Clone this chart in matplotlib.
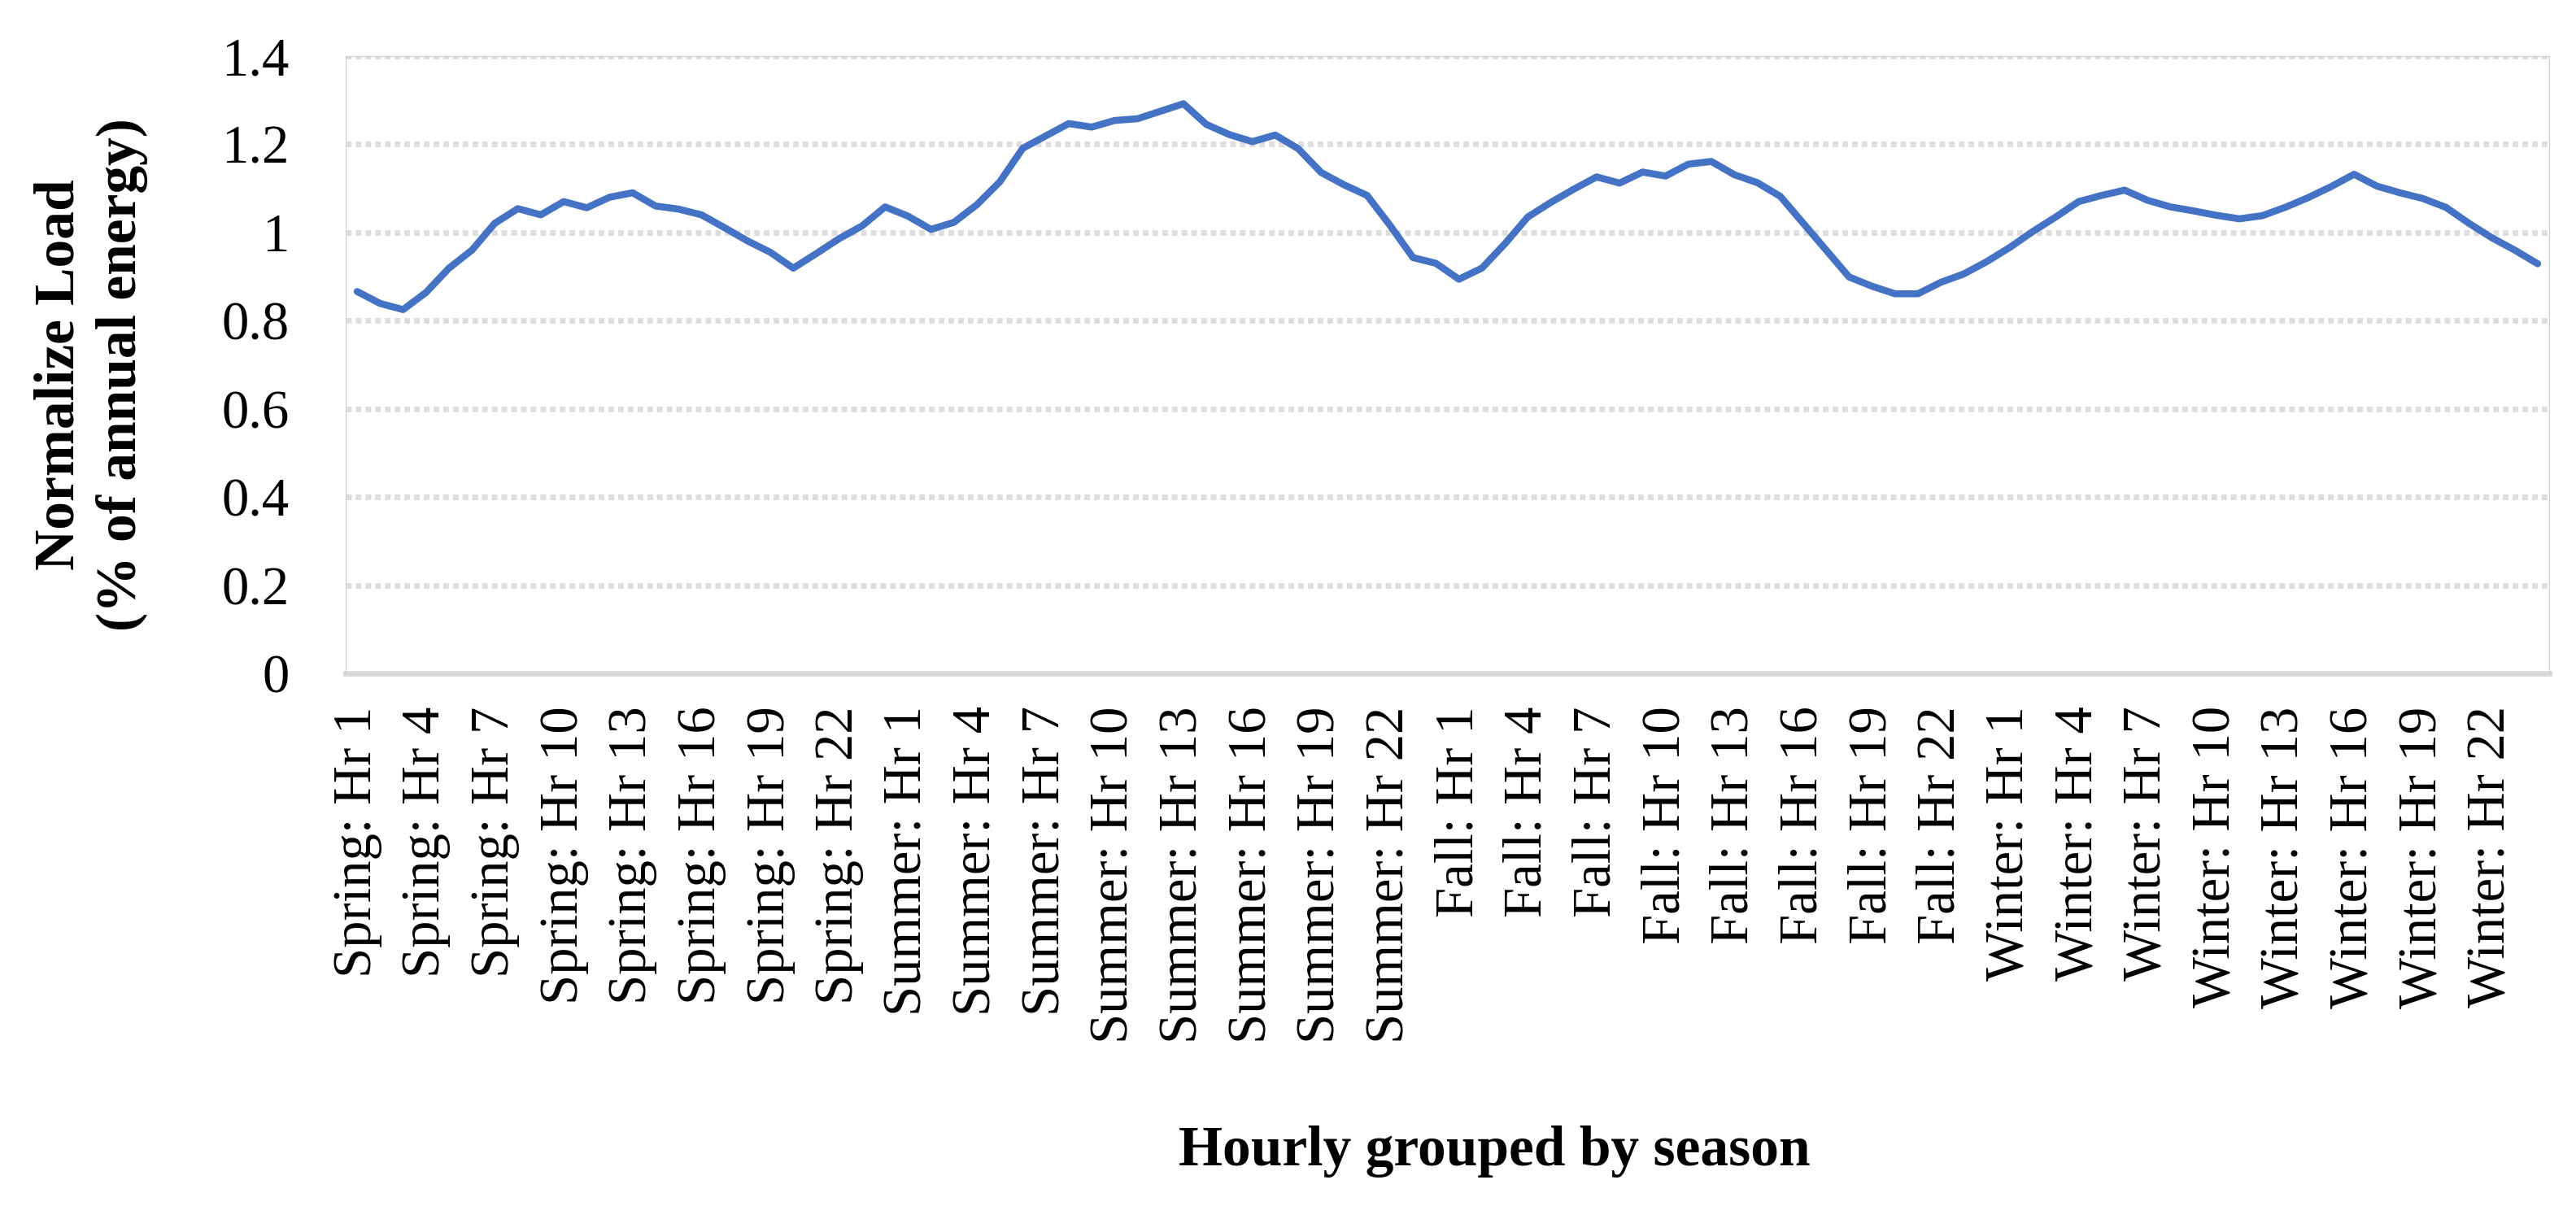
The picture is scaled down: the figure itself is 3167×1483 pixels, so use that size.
import matplotlib
matplotlib.use("Agg")
import matplotlib.pyplot as plt
import numpy as np

# ---------------- data ----------------
seasons = ["Spring", "Summer", "Fall", "Winter"]
hours = list(range(1, 25))

spring = [0.866, 0.839, 0.825, 0.864, 0.919, 0.960, 1.021, 1.054, 1.040, 1.070, 1.056, 1.080,
          1.090, 1.060, 1.053, 1.040, 1.011, 0.981, 0.955, 0.919, 0.952, 0.986, 1.015, 1.058]
summer = [1.037, 1.007, 1.023, 1.063, 1.115, 1.191, 1.219, 1.247, 1.239, 1.254, 1.258, 1.275,
          1.292, 1.245, 1.222, 1.206, 1.221, 1.190, 1.136, 1.108, 1.084, 1.016, 0.943, 0.930]
fall = [0.894, 0.919, 0.974, 1.035, 1.068, 1.098, 1.126, 1.112, 1.137, 1.128, 1.155, 1.161,
        1.131, 1.113, 1.082, 1.021, 0.960, 0.899, 0.878, 0.861, 0.861, 0.887, 0.906, 0.934]
winter = [0.966, 1.002, 1.035, 1.070, 1.084, 1.096, 1.073, 1.058, 1.049, 1.039, 1.031, 1.038,
          1.057, 1.079, 1.104, 1.132, 1.105, 1.090, 1.077, 1.057, 1.021, 0.988, 0.960, 0.929]

categories = [f"{s}: Hr {h}" for s in seasons for h in hours]
values = spring + summer + fall + winter

y_ticks = [0, 0.2, 0.4, 0.6, 0.8, 1.0, 1.2, 1.4]
y_tick_labels = ["0", "0.2", "0.4", "0.6", "0.8", "1", "1.2", "1.4"]
label_step = 3

y_title = "Normalize Load\n(% of annual energy)"
x_title = "Hourly grouped by season"

# ---------------- figure ----------------
W, H = 3167, 1483
fig = plt.figure(figsize=(W / 100, H / 100), dpi=100)
left, right, top, bottom = 425, 3134, 69, 828
ax = fig.add_axes([left / W, 1 - bottom / H, (right - left) / W, (bottom - top) / H])

x = np.arange(len(values))
ax.plot(x, values, color="#4472C4", lw=6.2, solid_joinstyle="round",
        solid_capstyle="round", zorder=3)

ax.set_xlim(-0.5, len(values) - 0.5)
ax.set_ylim(0, 1.4)

for v in y_ticks[1:]:
    ax.axhline(v, color="#dedede", lw=5, linestyle=(0, (1.0, 0.72)), zorder=1)

for side in ["left", "right", "top"]:
    ax.spines[side].set_color("#d0d0d0")
    ax.spines[side].set_linewidth(0.9)
ax.spines["bottom"].set_color("#d9d9d9")
ax.spines["bottom"].set_linewidth(5)
ax.spines["bottom"].set_zorder(2)

serif = "Liberation Serif"
ax.set_xticks(x[::label_step])
ax.set_xticklabels(categories[::label_step], rotation=90, fontsize=48,
                   family=serif, color="black")
ax.set_yticks(y_ticks)
ax.set_yticklabels(y_tick_labels, fontsize=48, family=serif, color="black")
ax.tick_params(axis="x", length=0, pad=29)
ax.tick_params(axis="y", length=0, pad=50)

fig.text(112 / W, 1 - 461 / H, y_title, rotation=90, ha="center", va="center",
         fontsize=50, fontweight="bold", family=serif, multialignment="center",
         linespacing=1.25)
fig.text(1837 / W, 50 / H, x_title, ha="center", va="baseline",
         fontsize=50, fontweight="bold", family=serif)

fig.savefig("out.png", dpi=100, facecolor="white")
